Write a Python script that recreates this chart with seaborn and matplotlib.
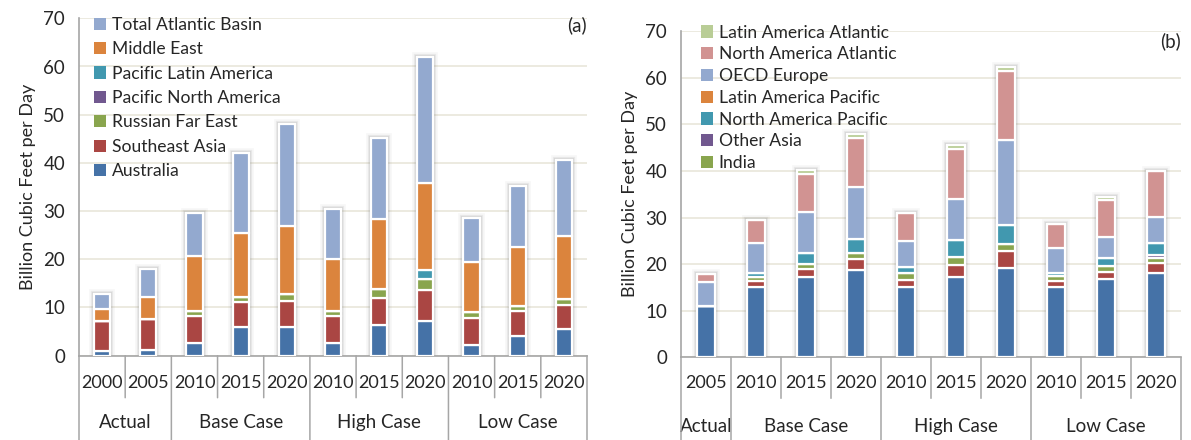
import numpy as np
import pandas as pd
import matplotlib
matplotlib.use("Agg")
import matplotlib.pyplot as plt
import seaborn as sns
from matplotlib.patches import Patch
from matplotlib.transforms import offset_copy

# ---------------- data: panel (a) ----------------
years_a = ["2000", "2005", "2010", "2015", "2020", "2010", "2015", "2020", "2010", "2015", "2020"]
groups_a = ["Actual", "Actual", "Base Case", "Base Case", "Base Case",
            "High Case", "High Case", "High Case", "Low Case", "Low Case", "Low Case"]
australia = [0.9, 1.1, 2.7, 5.9, 5.9, 2.7, 6.3, 7.2, 2.2, 4.1, 5.6]
southeast_asia = [6.3, 6.6, 5.5, 5.2, 5.5, 5.6, 5.6, 6.4, 5.7, 5.2, 5.0]
russian_far_east = [0.0, 0.0, 1.0, 1.1, 1.3, 0.9, 1.9, 2.3, 1.1, 1.0, 1.1]
pacific_north_america = [0.0, 0.0, 0.0, 0.0, 0.0, 0.0, 0.0, 0.0, 0.0, 0.0, 0.0]
pacific_latin_america = [0.0, 0.0, 0.0, 0.0, 0.0, 0.0, 0.0, 1.9, 0.0, 0.0, 0.0]
middle_east = [2.4, 4.5, 11.4, 13.2, 14.3, 10.9, 14.6, 18.0, 10.4, 12.2, 13.2]
total_atlantic_basin = [3.3, 5.8, 9.0, 16.6, 21.1, 10.3, 16.8, 26.1, 9.2, 12.7, 15.7]
series_a = ["Australia", "Southeast Asia", "Russian Far East", "Pacific North America",
            "Pacific Latin America", "Middle East", "Total Atlantic Basin"]
values_a = [australia, southeast_asia, russian_far_east, pacific_north_america,
            pacific_latin_america, middle_east, total_atlantic_basin]

# ---------------- data: panel (b) ----------------
years_b = ["2005", "2010", "2015", "2020", "2010", "2015", "2020", "2010", "2015", "2020"]
groups_b = ["Actual", "Base Case", "Base Case", "Base Case",
            "High Case", "High Case", "High Case", "Low Case", "Low Case", "Low Case"]
oecd_asia = [11.1, 15.2, 17.2, 18.7, 15.2, 17.2, 19.2, 15.1, 16.8, 18.1]
china = [0.0, 1.2, 1.7, 2.5, 1.5, 2.7, 3.6, 1.3, 1.5, 2.1]
india = [0.0, 0.9, 1.1, 1.2, 1.4, 1.7, 1.6, 1.0, 1.3, 1.2]
other_asia = [0.0, 0.0, 0.0, 0.0, 0.0, 0.0, 0.0, 0.0, 0.0, 0.5]
north_america_pacific = [0.0, 0.9, 2.5, 2.9, 1.2, 3.6, 4.1, 0.8, 1.8, 2.7]
latin_america_pacific = [0.0, 0.0, 0.0, 0.0, 0.0, 0.0, 0.0, 0.0, 0.0, 0.0]
oecd_europe = [5.1, 6.3, 8.6, 11.3, 5.6, 8.8, 18.2, 5.2, 4.4, 5.6]
north_america_atlantic = [1.7, 5.0, 8.2, 10.5, 6.1, 10.7, 14.7, 5.2, 8.0, 9.8]
latin_america_atlantic = [0.0, 0.0, 0.9, 0.8, 0.0, 0.8, 1.0, 0.0, 0.7, 0.0]
series_b = ["OECD Asia", "China", "India", "Other Asia", "North America Pacific",
            "Latin America Pacific", "OECD Europe", "North America Atlantic",
            "Latin America Atlantic"]
values_b = [oecd_asia, china, india, other_asia, north_america_pacific,
            latin_america_pacific, oecd_europe, north_america_atlantic,
            latin_america_atlantic]
legend_b = ["India", "Other Asia", "North America Pacific", "Latin America Pacific",
            "OECD Europe", "North America Atlantic", "Latin America Atlantic"]

# ---------------- style ----------------
C_BLUE = "#4572A7"
C_RED = "#AA4643"
C_GREEN = "#89A54E"
C_PURPLE = "#71588F"
C_TEAL = "#4198AF"
C_ORANGE = "#DB843D"
C_LBLUE = "#93A9CF"
C_PINK = "#D19392"
C_LGREEN = "#B9CD96"
colors_a = [C_BLUE, C_RED, C_GREEN, C_PURPLE, C_TEAL, C_ORANGE, C_LBLUE]
colors_b = [C_BLUE, C_RED, C_GREEN, C_PURPLE, C_TEAL, C_ORANGE, C_LBLUE, C_PINK, C_LGREEN]

sns.set_theme(style="white")
plt.rcParams["font.family"] = ["Lato", "DejaVu Sans"]
TXT = "#262626"
AXC = "#a6a6a6"
GRID = "#e9e6da"

W, H = 1191, 440
fig = plt.figure(figsize=(W / 100, H / 100), dpi=100)


def px_axes(l, r, t, b):
    return fig.add_axes([l / W, 1 - b / H, (r - l) / W, (b - t) / H])


def draw_panel(ax, years, groups, series, values, colors, legend_names, tag,
               bar_w, year_off, group_off, inner_len, outer_len, leg_kw, tag_xy):
    cats = [f"{g} {y}" for g, y in zip(groups, years)]
    n = len(cats)
    totals = np.sum(np.array(values), axis=0)
    # soft glow behind each stacked bar
    for lw, a in [(7, 0.05), (4.5, 0.10), (3, 0.15)]:
        sns.barplot(x=cats, y=totals, order=cats, ax=ax, width=bar_w, saturation=1,
                    facecolor="none", edgecolor=(0.45, 0.45, 0.45, a), linewidth=lw,
                    zorder=2)
    bottom = np.zeros(n)
    for name, vals, col in zip(series, values, colors):
        vals = np.array(vals, dtype=float)
        sns.barplot(x=cats, y=vals, order=cats, ax=ax, bottom=bottom, color=col,
                    width=bar_w, saturation=1, edgecolor="white", linewidth=1.6,
                    zorder=3)
        bottom = bottom + vals

    ax.set_ylim(0, 70)
    ax.set_xlim(-0.5, n - 0.5)
    ax.set_yticks(range(0, 71, 10))
    ax.tick_params(axis="y", labelsize=13.5, labelcolor=TXT, color=AXC, length=6,
                   width=1, direction="out", pad=4)
    ax.yaxis.grid(True, color=GRID, linewidth=1.2, zorder=0)
    ax.set_axisbelow(True)
    ax.set_xticks([])
    ax.set_xlabel("")
    ax.set_ylabel("Billion Cubic Feet per Day", fontsize=13, color=TXT, labelpad=5)
    for s in ["top", "right"]:
        ax.spines[s].set_visible(False)
    ax.spines["left"].set_color(AXC)
    ax.spines["bottom"].set_color(AXC)
    ax.spines["left"].set_linewidth(1.2)
    ax.spines["bottom"].set_linewidth(1.2)

    xt = ax.get_xaxis_transform()
    tr_year = offset_copy(xt, fig=fig, y=-year_off, units="dots")
    tr_group = offset_copy(xt, fig=fig, y=-group_off, units="dots")
    for i, y in enumerate(years):
        ax.text(i, 0, y, transform=tr_year, ha="center", va="center",
                fontsize=13, color=TXT, clip_on=False)
    uniq = list(dict.fromkeys(groups))
    for g in uniq:
        idx = [i for i, gg in enumerate(groups) if gg == g]
        ax.text(np.mean(idx), 0, g, transform=tr_group, ha="center", va="center",
                fontsize=13.5, color=TXT, clip_on=False)
    for b in range(n + 1):
        xpos = b - 0.5
        is_group = b == 0 or b == n or groups[b] != groups[b - 1]
        length = outer_len if is_group else inner_len
        ax.annotate("", xy=(xpos, 0), xycoords=xt, xytext=(0, -length),
                    textcoords="offset pixels",
                    arrowprops=dict(arrowstyle="-", color=AXC, lw=1.1,
                                    shrinkA=0, shrinkB=0), annotation_clip=False)

    handles = []
    for name in reversed(legend_names):
        handles.append(Patch(facecolor=colors[series.index(name)], edgecolor="none",
                             label=name))
    ax.legend(handles=handles, frameon=False, handlelength=0.7,
              handleheight=0.7, handletextpad=0.35, borderaxespad=0,
              labelcolor=TXT, **leg_kw)
    ax.text(tag_xy[0], tag_xy[1], tag, transform=ax.transAxes, ha="right",
            va="center", fontsize=13.5, color=TXT)


ax1 = px_axes(79, 587, 18.3, 355.7)
draw_panel(ax1, years_a, groups_a, series_a, values_a, colors_a, series_a, "(a)",
           bar_w=0.35, year_off=27, group_off=67, inner_len=42, outer_len=85,
           leg_kw=dict(loc="upper left", bbox_to_anchor=(0.015, 1.025),
                       labelspacing=0.48, fontsize=12.6),
           tag_xy=(1.0, 0.98))

ax2 = px_axes(681, 1181, 31.3, 357.3)
draw_panel(ax2, years_b, groups_b, series_b, values_b, colors_b, legend_b, "(b)",
           bar_w=0.36, year_off=26, group_off=69, inner_len=41, outer_len=83,
           leg_kw=dict(loc="upper left", bbox_to_anchor=(0.025, 1.042),
                       labelspacing=0.33, fontsize=12.6),
           tag_xy=(1.0, 0.97))

fig.savefig("out.png", dpi=100)
